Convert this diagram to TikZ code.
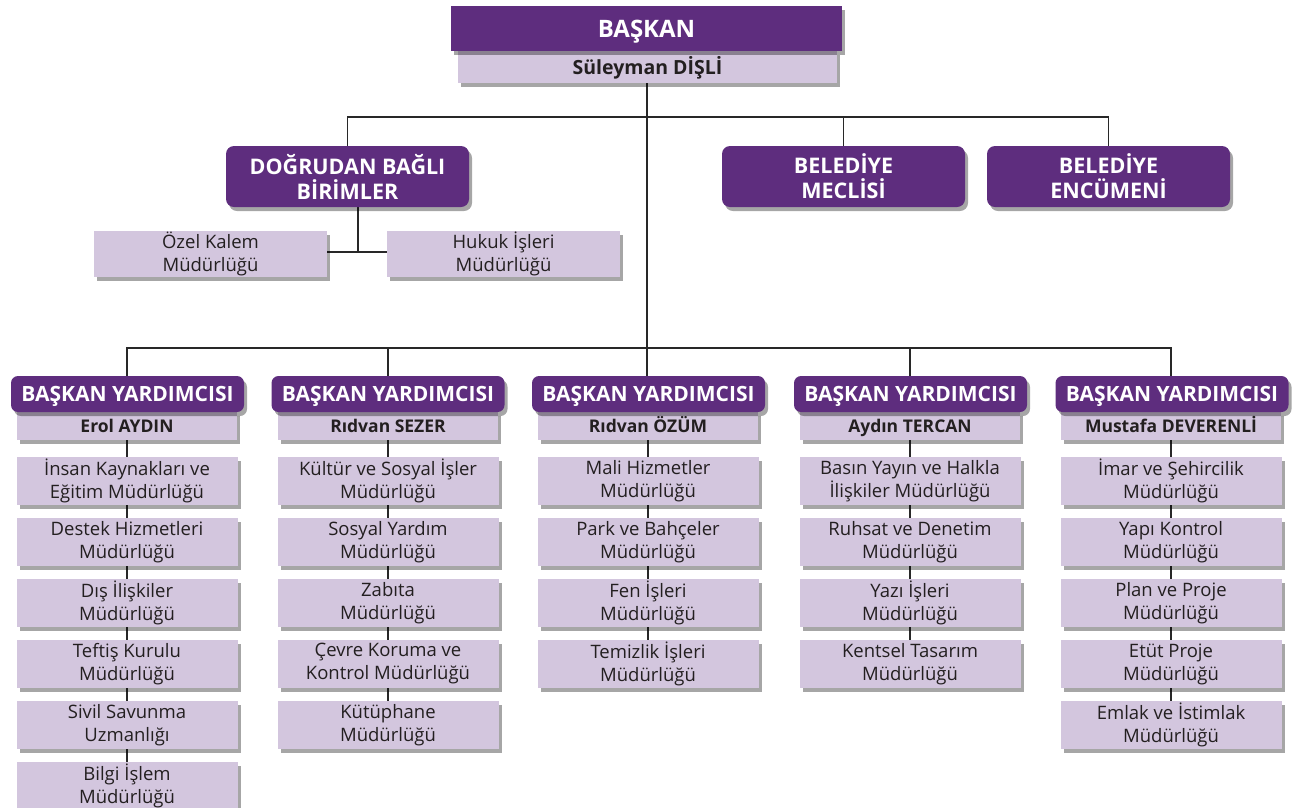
\documentclass[tikz,border=0pt]{standalone}
\usepackage{fontspec}
\setmainfont{Open Sans}
\usetikzlibrary{shadows,backgrounds}
\definecolor{purp}{RGB}{94,45,126}
\definecolor{lav}{RGB}{211,198,222}
\definecolor{txt}{RGB}{35,31,32}
\definecolor{ln}{RGB}{40,40,40}
\begin{document}
\begin{tikzpicture}[x=1pt,y=-1pt,
  shad/.style={drop shadow={shadow xshift=3pt,shadow yshift=-4pt,fill=black,opacity=0.35}},
  pbox/.style={shad,fill=purp,text=white,inner sep=0pt,align=center},
  lbox/.style={shad,fill=lav,text=txt,inner sep=0pt,align=center},
  dept/.style={lbox,minimum width=221pt,minimum height=48pt,font=\fontsize{18.5}{23}\selectfont},
  vp/.style={pbox,rounded corners=7pt,minimum width=233pt,minimum height=36pt,text height=15pt,text depth=0pt,font=\bfseries\fontsize{21}{24}\selectfont},
  vpname/.style={lbox,minimum width=220pt,minimum height=28pt,text height=13pt,text depth=0pt,font=\bfseries\fontsize{17.5}{20}\selectfont},
  unit/.style={pbox,rounded corners=8pt,minimum width=243pt,minimum height=61pt,font=\bfseries\fontsize{21.5}{25}\selectfont},
  conn/.style={draw=ln,line width=1.2pt}]
\useasboundingbox (0,0) rectangle (1300,807);

% top
\node[lbox,minimum width=379pt,minimum height=32pt,text height=14pt,text depth=0pt,font=\bfseries\fontsize{19.5}{22}\selectfont] (sul) at (647.5,67) {Süleyman DİŞLİ};
\node[pbox,minimum width=391pt,minimum height=45pt,text height=17pt,text depth=0pt,font=\bfseries\fontsize{24}{28}\selectfont] (bas) at (646.5,28.5) {BAŞKAN};

% second row
\node[unit] (dog) at (347.5,176.5) {DOĞRUDAN BAĞLI\\BİRİMLER};
\node[unit] (mec) at (843.5,176.5) {BELEDİYE\\MECLİSİ};
\node[unit] (enc) at (1108.5,176.5) {BELEDİYE\\ENCÜMENİ};
\node[dept,minimum width=233pt,minimum height=46pt] (oz) at (210.5,254) {Özel Kalem\\Müdürlüğü};
\node[dept,minimum width=233pt,minimum height=46pt] (hu) at (503.5,254) {Hukuk İşleri\\Müdürlüğü};
\coordinate (top) at (647,117);
\coordinate (dj) at (358,252);
\coordinate (bar) at (647,348);

% VP columns
\node[vpname] (n1) at (127,426) {Erol AYDIN};
\node[vp] (v1) at (127.5,394) {BAŞKAN YARDIMCISI};
\node[vpname] (n2) at (388,426) {Rıdvan SEZER};
\node[vp] (v2) at (388,394) {BAŞKAN YARDIMCISI};
\node[vpname] (n3) at (648,426) {Rıdvan ÖZÜM};
\node[vp] (v3) at (648.5,394) {BAŞKAN YARDIMCISI};
\node[vpname] (n4) at (910,426) {Aydın TERCAN};
\node[vp] (v4) at (910.5,394) {BAŞKAN YARDIMCISI};
\node[vpname] (n5) at (1171,426) {Mustafa DEVERENLİ};
\node[vp] (v5) at (1172,394) {BAŞKAN YARDIMCISI};

% column 1
\node[dept] (a1) at (127,481) {İnsan Kaynakları ve\\Eğitim Müdürlüğü};
\node[dept] (a2) at (127,542) {Destek Hizmetleri\\Müdürlüğü};
\node[dept] (a3) at (127,603) {Dış İlişkiler\\Müdürlüğü};
\node[dept] (a4) at (127,664) {Teftiş Kurulu\\Müdürlüğü};
\node[dept] (a5) at (127,725) {Sivil Savunma\\Uzmanlığı};
\node[dept] (a6) at (127,786) {Bilgi İşlem\\Müdürlüğü};
% column 2
\node[dept] (b1) at (388,481) {Kültür ve Sosyal İşler\\Müdürlüğü};
\node[dept] (b2) at (388,542) {Sosyal Yardım\\Müdürlüğü};
\node[dept] (b3) at (388,603) {Zabıta\\Müdürlüğü};
\node[dept] (b4) at (388,664) {Çevre Koruma ve\\Kontrol Müdürlüğü};
\node[dept] (b5) at (388,725) {Kütüphane\\Müdürlüğü};
% column 3
\node[dept] (c1) at (648,481) {Mali Hizmetler\\Müdürlüğü};
\node[dept] (c2) at (648,542) {Park ve Bahçeler\\Müdürlüğü};
\node[dept] (c3) at (648,603) {Fen İşleri\\Müdürlüğü};
\node[dept] (c4) at (648,664) {Temizlik İşleri\\Müdürlüğü};
% column 4
\node[dept] (e1) at (910,481) {Basın Yayın ve Halkla\\İlişkiler Müdürlüğü};
\node[dept] (e2) at (910,542) {Ruhsat ve Denetim\\Müdürlüğü};
\node[dept] (e3) at (910,603) {Yazı İşleri\\Müdürlüğü};
\node[dept] (e4) at (910,664) {Kentsel Tasarım\\Müdürlüğü};
% column 5
\node[dept] (f1) at (1171,481) {İmar ve Şehircilik\\Müdürlüğü};
\node[dept] (f2) at (1171,542) {Yapı Kontrol\\Müdürlüğü};
\node[dept] (f3) at (1171,603) {Plan ve Proje\\Müdürlüğü};
\node[dept] (f4) at (1171,664) {Etüt Proje\\Müdürlüğü};
\node[dept] (f5) at (1171,725) {Emlak ve İstimlak\\Müdürlüğü};

\begin{pgfonlayer}{background}
\draw[conn] (sul.south -| top) -- (bar);
\draw[conn] (dog.north) |- (top) -| (enc.north);
\draw[conn] (mec.north) -- (mec.north |- top);
\draw[conn] (dog.south -| dj) -- (dj);
\draw[conn] (oz.east |- dj) -- (hu.west |- dj);
\draw[conn] (v1.north -| n1) |- (bar) -| (v5.north -| n5);
\draw[conn] (v2.north) -- (v2.north |- bar);
\draw[conn] (v3.north -| bar) -- (bar);
\draw[conn] (v4.north -| n4) -- (n4 |- bar);
\draw[conn] (n1.south) -- (a6.north);
\draw[conn] (n2.south) -- (b5.north);
\draw[conn] (n3.south) -- (c4.north);
\draw[conn] (n4.south) -- (e4.north);
\draw[conn] (n5.south) -- (f5.north);
\end{pgfonlayer}
\end{tikzpicture}
\end{document}
